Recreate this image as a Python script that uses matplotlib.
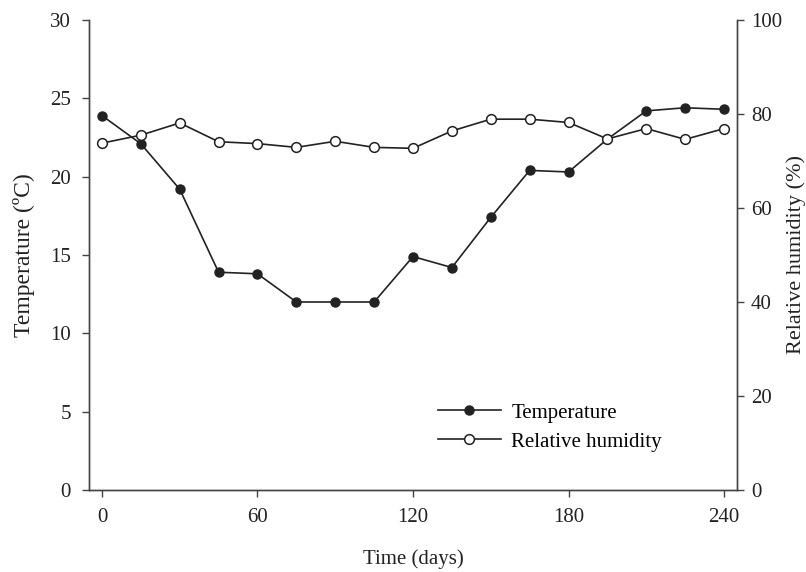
import matplotlib
matplotlib.use('Agg')
import matplotlib.pyplot as plt

# 数据
days = [0, 15, 30, 45, 60, 75, 90, 105, 120, 135, 150, 165, 180, 195, 210, 225, 240]
temperature = [23.9, 22.1, 19.2, 13.9, 13.8, 12.0, 12.0, 12.0, 14.9, 14.2, 17.4, 20.4, 20.3, 22.4, 24.2, 24.4, 24.3]
humidity = [73.8, 75.5, 78.1, 74.1, 73.7, 72.9, 74.2, 72.9, 72.7, 76.4, 78.9, 78.9, 78.2, 74.7, 76.9, 74.6, 76.9]

x_ticks = [0, 60, 120, 180, 240]
t_ticks = [0, 5, 10, 15, 20, 25, 30]
h_ticks = [0, 20, 40, 60, 80, 100]

plt.rcParams['font.family'] = ['Liberation Serif', 'DejaVu Serif']
plt.rcParams['font.size'] = 15
c = '#222222'

fig = plt.figure(figsize=(8.06, 5.72), dpi=100)
ax = fig.add_axes([0.1104, 0.1434, 0.804, 0.8216])
ax2 = ax.twinx()

l1, = ax.plot(days, temperature, color=c, lw=1.2, marker='o', markersize=6.5,
              markerfacecolor=c, markeredgecolor=c, label='Temperature')
l2, = ax2.plot(days, humidity, color=c, lw=1.2, marker='o', markersize=7,
               markerfacecolor='white', markeredgecolor=c, markeredgewidth=1.1,
               label='Relative humidity')

ax.set_xlim(-5, 245)
ax.set_ylim(0, 30)
ax2.set_ylim(0, 100)
ax.set_xticks(x_ticks)
ax.set_yticks(t_ticks)
ax2.set_yticks(h_ticks)

for a in (ax, ax2):
    a.spines['top'].set_visible(False)
    for s in a.spines.values():
        s.set_color('#444444')
        s.set_linewidth(1.0)
    a.tick_params(direction='out', length=5, width=1, colors='#444444', labelcolor=c, labelsize=15)
ax.tick_params(axis='x', pad=8)
ax.tick_params(axis='y', pad=8)
ax2.tick_params(axis='y', pad=5)

ax.set_xlabel('Time (days)', fontsize=15, color=c, labelpad=16)
ax.set_ylabel('Temperature (\u00baC)', fontsize=17, color=c, labelpad=11)
ax2.set_ylabel('Relative humidity (%)', fontsize=16, color=c, labelpad=3)

ax.legend(handles=[l1, l2], loc='upper left', bbox_to_anchor=(0.51, 0.225),
          frameon=False, handlelength=3.0, handletextpad=0.5, fontsize=15,
          labelspacing=0.45)

fig.savefig('out.png', dpi=100)
